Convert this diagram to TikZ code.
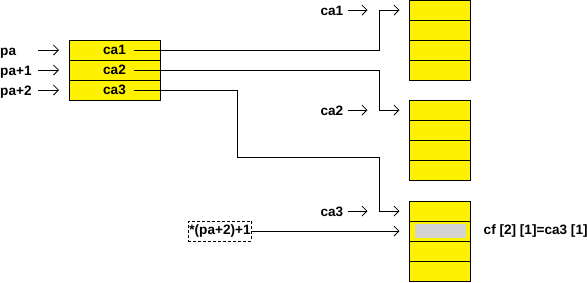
\documentclass[tikz,border=0pt]{standalone}
\usepackage{fontspec}
\setmainfont{Liberation Sans}
\usetikzlibrary{arrows.meta,positioning}
\definecolor{hitgrey}{RGB}{211,211,211}

\begin{document}
\begin{tikzpicture}[
    x=1pt, y=-1pt,
    node distance=0pt,
    every node/.style={font=\fontsize{13.6}{15}\selectfont\bfseries},
    cell/.style={draw, line width=0.8pt, fill=yellow, outer sep=0pt, inner sep=0pt, minimum width=91pt, minimum height=20pt},
    slot/.style={cell, minimum width=61pt},
    lbl/.style={inner sep=0pt},
    ptr/.style={draw, dashed, line width=0.7pt, dash pattern=on 3pt off 2pt, inner xsep=1pt, inner ysep=0pt, minimum height=20pt},
    link/.style={-{Straight Barb[length=5pt,width=10pt]}, line width=0.8pt}
]
\useasboundingbox (0,0) rectangle (587,282);

% pointer array
\node[cell] (c1) at (114.5,50) {ca1};
\node[cell, below=of c1] (c2) {ca2};
\node[cell, below=of c2] (c3) {ca3};
\node[lbl, anchor=base west] (pa0) at (0,55) {pa};
\node[lbl, anchor=base west] (pa1) at (0,75) {pa+1};
\node[lbl, anchor=base west] (pa2) at (0,95) {pa+2};
\draw[link] ([xshift=-31pt]c1.west) -- ([xshift=-10pt]c1.west);
\draw[link] ([xshift=-31pt]c2.west) -- ([xshift=-10pt]c2.west);
\draw[link] ([xshift=-31pt]c3.west) -- ([xshift=-10pt]c3.west);

% the three rows
\node[slot] (a1) at (440,10) {};
\node[slot, below=of a1] (a2) {};
\node[slot, below=of a2] (a3) {};
\node[slot, below=of a3] (a4) {};
\node[slot] (b1) at (440,110) {};
\node[slot, below=of b1] (b2) {};
\node[slot, below=of b2] (b3) {};
\node[slot, below=of b3] (b4) {};
\node[slot] (d1) at (440,211) {};
\node[slot, below=of d1] (d2) {};
\node[slot, below=of d2] (d3) {};
\node[slot, below=of d3] (d4) {};
\node[fill=hitgrey, inner sep=0pt, minimum width=51pt, minimum height=14pt] (hit) at (d2) {};

\node[lbl, anchor=base east] (la1) at ([xshift=-66pt, yshift=-5pt]a1.west) {ca1};
\node[lbl, anchor=base east] (la2) at ([xshift=-66pt, yshift=-5pt]b1.west) {ca2};
\node[lbl, anchor=base east] (la3) at ([xshift=-66pt, yshift=-5pt]d1.west) {ca3};
\draw[link] ([xshift=-62pt]a1.west) -- ([xshift=-42pt]a1.west);
\draw[link] ([xshift=-62pt]b1.west) -- ([xshift=-42pt]b1.west);
\draw[link] ([xshift=-62pt]d1.west) -- ([xshift=-42pt]d1.west);

% links from the array
\coordinate (bend) at (237,157);
\draw[link] ([xshift=-26pt]c1.east) -| ([xshift=-30pt]a1.west) -- ([xshift=-10pt]a1.west);
\draw[link] ([xshift=-26pt]c2.east) -| ([xshift=-30pt]b1.west) -- ([xshift=-10pt]b1.west);
\draw[link] ([xshift=-26pt]c3.east) -| (bend) -| ([xshift=-30pt]d1.west) -- ([xshift=-10pt]d1.west);

\node[ptr] (p) at (220,231) {*(pa+2)+1};
\draw[link] (p.east) -- ([xshift=-10pt]d2.west);
\node[lbl, right=13pt of d2] (cf) {cf [2] [1]=ca3 [1]};
\end{tikzpicture}
\end{document}
